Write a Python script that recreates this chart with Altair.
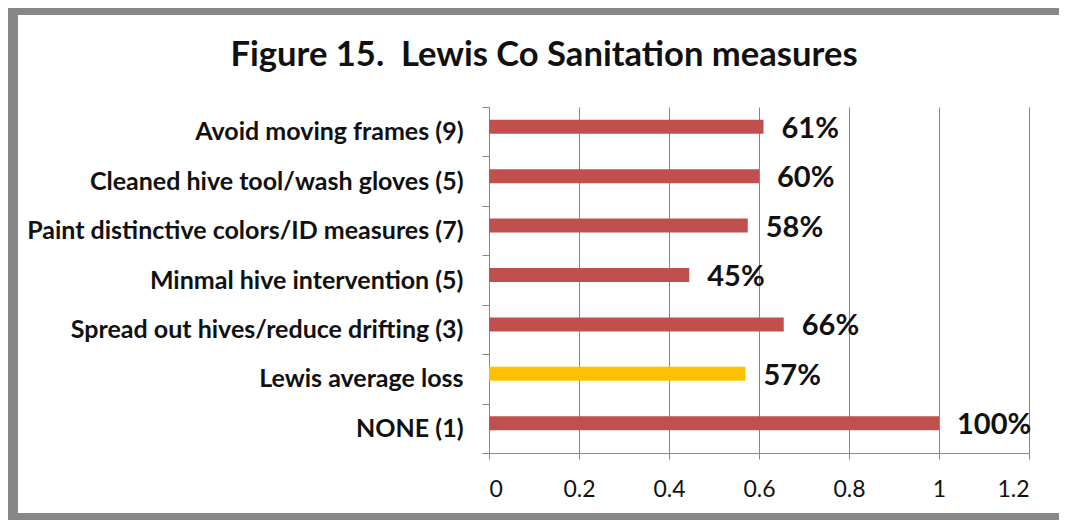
import altair as alt
import pandas as pd

title_text = "Figure 15.\u00a0 Lewis Co Sanitation measures"
categories = [
    "Avoid moving frames (9)\u00a0",
    "Cleaned hive tool/wash gloves (5)",
    "Paint distinctive colors/ID measures (7)",
    "Minmal hive intervention (5)",
    "Spread out hives/reduce drifting (3)",
    "Lewis average loss",
    "NONE (1)",
]
values = [0.61, 0.60, 0.575, 0.445, 0.655, 0.57, 1.0]
pct_labels = ["61%", "60%", "58%", "45%", "66%", "57%", "100%"]
bar_colors = ["#C0504D", "#C0504D", "#C0504D", "#C0504D", "#C0504D", "#FFC000", "#C0504D"]
x_ticks = [0, 0.2, 0.4, 0.6, 0.8, 1.0, 1.2]

df = pd.DataFrame({"cat": categories, "val": values, "lab": pct_labels, "col": bar_colors})
title_df = pd.DataFrame({"t": [title_text]})

FONT = "Lato"
GRID = "#878787"
FRAME = "#878787"

y_enc = alt.Y(
    "cat:N",
    sort=categories,
    title=None,
    scale=alt.Scale(paddingInner=0, paddingOuter=0),
    axis=alt.Axis(
        labelFont=FONT, labelFontSize=25, labelFontWeight="bold", labelColor="#111111",
        labelPadding=19, tickSize=7, tickColor=GRID, domainColor=GRID, tickBand="extent",
        labelLimit=600,
    ),
)
x_enc = alt.X(
    "val:Q",
    title=None,
    scale=alt.Scale(domain=[0, 1.2], nice=False),
    axis=alt.Axis(
        values=x_ticks, format="~g", grid=True, gridColor=GRID, gridWidth=1,
        labelFont=FONT, labelFontSize=23, labelColor="#111111", labelPadding=19,
        tickSize=6, tickColor=GRID, domainColor=GRID,
    ),
)

bars = alt.Chart(df).mark_bar(size=14, yOffset=-5).encode(
    y=y_enc, x=x_enc, color=alt.Color("col:N", scale=None)
)

texts = alt.Chart(df).mark_text(
    align="left", baseline="middle", dx=18, dy=-3, font=FONT, fontSize=29,
    fontWeight="bold", color="#111111",
).encode(y=alt.Y("cat:N", sort=categories), x="val:Q", text="lab:N")

title_mark = alt.Chart(title_df).mark_text(
    align="center", baseline="alphabetic", font=FONT, fontSize=34.6,
    fontWeight="bold", color="#111111", clip=False,
).encode(x=alt.value(55), y=alt.value(-41), text="t:N")

band_left = alt.Chart(title_df).mark_rect(color=FRAME, clip=False).encode(
    x=alt.value(-490), x2=alt.value(-471), y=alt.value(-110), y2=alt.value(420)
)
band_top = alt.Chart(title_df).mark_rect(color=FRAME, clip=False).encode(
    x=alt.value(-490), x2=alt.value(570), y=alt.value(-110), y2=alt.value(-92)
)
band_bottom = alt.Chart(title_df).mark_rect(color=FRAME, clip=False).encode(
    x=alt.value(-490), x2=alt.value(570), y=alt.value(406), y2=alt.value(420)
)

chart = alt.layer(band_left, band_top, band_bottom, title_mark, bars, texts).properties(
    width=540,
    height=346,
    autosize=alt.AutoSizeParams(type="none"),
    padding={"left": 481, "top": 99, "right": 31, "bottom": 67},
    background="white",
).configure_view(stroke=None)

chart.save("out.html", embed_options={"renderer": "svg", "actions": False})
